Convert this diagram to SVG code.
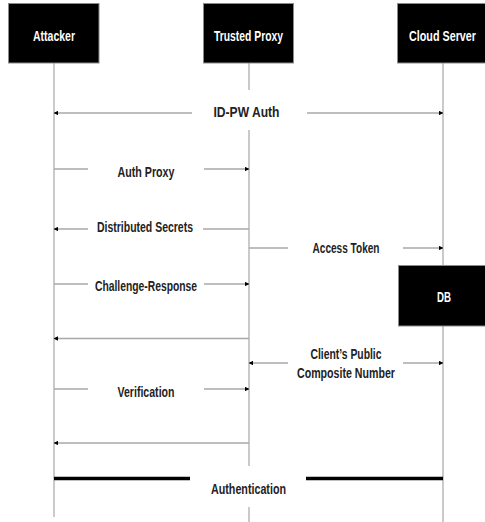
<svg xmlns="http://www.w3.org/2000/svg" width="485" height="522" viewBox="0 0 485 522">
<style>
.box{fill:#000;stroke:#8a8a8a;stroke-width:1}
.bl{font-family:"Liberation Sans",Arial,sans-serif;font-weight:bold;font-size:15.5px;fill:#fff;text-anchor:middle}
.life{stroke:#b4b4b4;stroke-width:1.4;fill:none}
.msg{stroke:#a8a8a8;stroke-width:1.4;fill:none}
.thick{stroke:#000;stroke-width:3.5;fill:none}
.lb{font-family:"Liberation Sans",Arial,sans-serif;font-weight:bold;font-size:15px;fill:#222;text-anchor:middle}
</style>
<defs>
<marker id="ah" viewBox="0 0 6 6" refX="5.5" refY="3" markerWidth="4.5" markerHeight="4.5" markerUnits="userSpaceOnUse" orient="auto-start-reverse">
<path d="M0,0 L6,3 L0,6 z" fill="#000"/>
</marker>
</defs>
<g id="lifelines">
<line class="life" x1="54" y1="63" x2="54" y2="517"/>
<line class="life" x1="249" y1="63" x2="249" y2="90"/>
<line class="life" x1="249" y1="130" x2="249" y2="466"/>
<line class="life" x1="249" y1="507" x2="249" y2="522"/>
<line class="life" x1="443" y1="63" x2="443" y2="266"/>
<line class="life" x1="443" y1="326" x2="443" y2="522"/>
</g>
<g id="attacker">
<rect class="box" x="8.5" y="3.5" width="90.5" height="59.5"/>
<text class="bl" x="54" y="40.5" textLength="42" lengthAdjust="spacingAndGlyphs">Attacker</text>
</g>
<g id="trusted-proxy">
<rect class="box" x="203.5" y="3.5" width="90" height="59.5"/>
<text class="bl" x="248.5" y="40.5" textLength="69" lengthAdjust="spacingAndGlyphs">Trusted Proxy</text>
</g>
<g id="cloud-server">
<rect class="box" x="397.5" y="3.5" width="90" height="59.5"/>
<text class="bl" x="442.5" y="40.5" textLength="67" lengthAdjust="spacingAndGlyphs">Cloud Server</text>
</g>
<g id="db">
<rect class="box" x="398.5" y="265.5" width="90" height="60.5"/>
<text class="bl" x="444" y="301.5" font-size="13.5" textLength="14" lengthAdjust="spacingAndGlyphs">DB</text>
</g>
<g id="connectors">
<line class="msg" x1="192" y1="113" x2="54" y2="113" marker-end="url(#ah)"/>
<line class="msg" x1="307" y1="113" x2="443" y2="113" marker-end="url(#ah)"/>
<line class="msg" x1="54" y1="169" x2="88" y2="169"/>
<line class="msg" x1="204" y1="169" x2="249" y2="169" marker-end="url(#ah)"/>
<line class="msg" x1="88" y1="229" x2="54" y2="229" marker-end="url(#ah)"/>
<line class="msg" x1="203" y1="229" x2="249" y2="229"/>
<line class="msg" x1="249" y1="248" x2="288" y2="248"/>
<line class="msg" x1="403" y1="248" x2="443" y2="248" marker-end="url(#ah)"/>
<line class="msg" x1="54" y1="284" x2="88" y2="284"/>
<line class="msg" x1="204" y1="284" x2="249" y2="284" marker-end="url(#ah)"/>
<line class="msg" x1="249" y1="338.5" x2="54" y2="338.5" marker-end="url(#ah)"/>
<line class="msg" x1="288" y1="363" x2="249" y2="363" marker-end="url(#ah)"/>
<line class="msg" x1="403" y1="363" x2="443" y2="363" marker-end="url(#ah)"/>
<line class="msg" x1="54" y1="389" x2="88" y2="389"/>
<line class="msg" x1="204" y1="389" x2="249" y2="389" marker-end="url(#ah)"/>
<line class="msg" x1="249" y1="443" x2="54" y2="443" marker-end="url(#ah)"/>
<line class="thick" x1="54" y1="478.5" x2="190" y2="478.5"/>
<line class="thick" x1="306" y1="478.5" x2="443" y2="478.5"/>
</g>
<g id="labels">
<text class="lb" x="246.5" y="117" textLength="66" lengthAdjust="spacingAndGlyphs">ID-PW Auth</text>
<text class="lb" x="146" y="177" textLength="57" lengthAdjust="spacingAndGlyphs">Auth Proxy</text>
<text class="lb" x="145" y="231.5" textLength="96" lengthAdjust="spacingAndGlyphs">Distributed Secrets</text>
<text class="lb" x="346" y="253" textLength="67" lengthAdjust="spacingAndGlyphs">Access Token</text>
<text class="lb" x="146" y="291" textLength="102" lengthAdjust="spacingAndGlyphs">Challenge-Response</text>
<text class="lb" x="346" y="358.5" textLength="71" lengthAdjust="spacingAndGlyphs">Client’s Public</text>
<text class="lb" x="346" y="377.5" textLength="98" lengthAdjust="spacingAndGlyphs">Composite Number</text>
<text class="lb" x="146" y="396.5" textLength="57" lengthAdjust="spacingAndGlyphs">Verification</text>
<text class="lb" x="248.5" y="493.5" textLength="75" lengthAdjust="spacingAndGlyphs">Authentication</text>
</g>
</svg>
